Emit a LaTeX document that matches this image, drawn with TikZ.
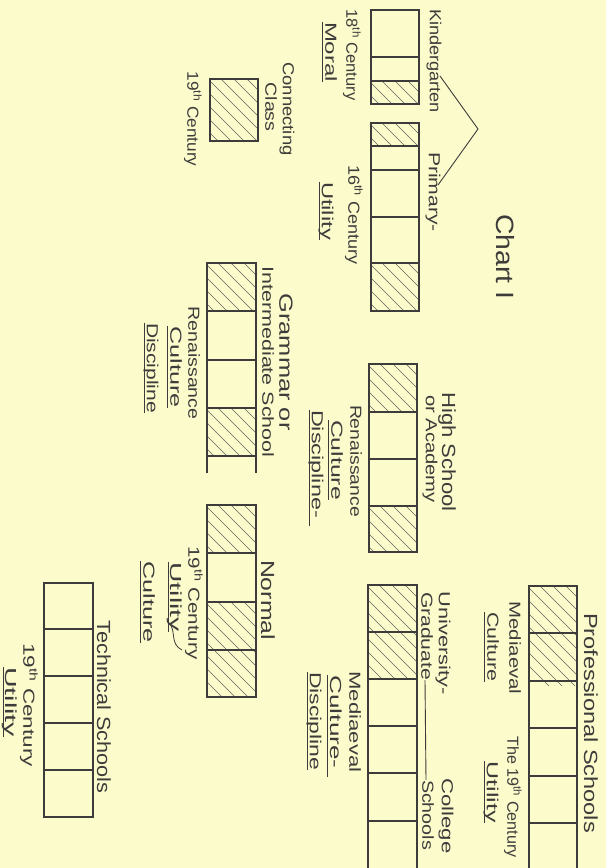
\documentclass[tikz,border=0pt]{standalone}
\usepackage{fontspec}
\usepackage{graphicx}
\newfontfamily\hand{Liberation Sans}
\definecolor{paper}{RGB}{251,251,204}
\definecolor{ink}{RGB}{62,60,58}
\newcommand\fitw[2]{\resizebox{#1pt}{\height}{#2}}
\newcommand\hatchcell[4]{\begin{scope}\clip (#1,#2) rectangle (#3,#4);
  \foreach \k in {-80,-67,...,60} \draw[hatch] ({#1+\k},#2) -- ({#1+\k+100},{#2+100});\end{scope}}
\newcommand\thx{\textsuperscript{th}}
\begin{document}
\begin{tikzpicture}[x=1pt,y=-1pt,
  box/.style={draw=ink,line width=1.1pt},
  hatch/.style={draw=ink!80,line width=0.5pt},
  lab/.style={rotate=-90,inner sep=0pt,text=ink,font=\hand\fontsize{16}{19}\selectfont},
  big/.style={font=\hand\fontsize{19}{22}\selectfont},
  uline/.style={draw=ink,line width=0.8pt}]
\fill[paper] (0,0) rectangle (606,868);
\useasboundingbox (0,0) rectangle (606,868);

% ---------- hatching ----------
\hatchcell{371}{81}{419}{104}
\hatchcell{371}{123}{419}{146}
\hatchcell{371}{263}{419}{311}
\hatchcell{210}{79}{258}{141}
\hatchcell{207}{263}{256}{311}
\hatchcell{207}{408}{256}{456}
\hatchcell{369}{364}{417}{412}
\hatchcell{369}{506}{417}{552}
\hatchcell{207}{505}{256}{553}
\hatchcell{207}{602}{256}{697}
\hatchcell{368}{585}{417}{679}
\hatchcell{529}{586}{577}{823}

% ---------- columns ----------
% Kindergarten
\draw[box] (371,10) rectangle (419,104);
\draw[box] (371,57) -- (419,57) (371,81) -- (419,81);
% Primary
\draw[box] (371,123) rectangle (419,311);
\foreach \y in {146,170,217,263} \draw[box] (371,\y) -- (419,\y);
% Connecting class
\draw[box] (210,79) rectangle (258,141);
% Grammar
\draw[box] (207,473) -- (207,263) -- (256,263) -- (256,473);
\foreach \y in {311,360,408,456} \draw[box] (207,\y) -- (256,\y);
% High school
\draw[box] (369,364) rectangle (417,552);
\foreach \y in {412,459,506} \draw[box] (369,\y) -- (417,\y);
% Normal
\draw[box] (207,505) rectangle (256,697);
\foreach \y in {553,602,650} \draw[box] (207,\y) -- (256,\y);
% Technical
\draw[box] (44,583) rectangle (93,817);
\foreach \y in {629,676,723,770} \draw[box] (44,\y) -- (93,\y);
% University
\draw[box] (368,870) -- (368,585) -- (417,585) -- (417,870);
\foreach \y in {632,679,726,773,821} \draw[box] (368,\y) -- (417,\y);
% Professional
\draw[box] (529,870) -- (529,586) -- (577,586) -- (577,870);
\foreach \y in {633,681,728,776,823} \draw[box] (529,\y) -- (577,\y);

% ---------- labels ----------
\node[lab] (kg)    at (434,61)  {\fitw{104}{Kindergarten}};
\node[lab] (c18)   at (352,55)  {\fitw{91}{18\thx\ Century}};
\node[lab] (moral) at (331,52)  {\fitw{60}{Moral}};
\node[lab] (prim)  at (433,192) {\fitw{80}{Primary-}};
\node[lab] (c16)   at (354,215) {\fitw{99}{16\thx\ Century}};
\node[lab] (ut1)   at (326,211) {\fitw{58}{Utility}};
\node[lab,font=\hand\fontsize{25}{28}\selectfont] (chart) at (505,257) {\fitw{85}{Chart I}};

\node[lab] (conn)  at (287,109) {\fitw{93}{Connecting}};
\node[lab] (cls)   at (271,107) {\fitw{49}{Class}};
\node[lab] (c19a)  at (193,119) {\fitw{95}{19\thx\ Century}};

\node[lab,big] (gram)  at (286,362) {\fitw{137}{Grammar or}};
\node[lab] (inter) at (268,362) {\fitw{191}{Intermediate School}};
\node[lab] (ren1)  at (194,363) {\fitw{113}{Renaissance}};
\node[lab] (cu1)   at (176,367) {\fitw{81}{Culture}};
\node[lab] (di1)   at (151,368) {\fitw{90}{Discipline}};

\node[lab,big] (hs)    at (447,452) {\fitw{119}{High School}};
\node[lab] (acad)  at (430,449) {\fitw{108}{or Academy}};
\node[lab] (ren2)  at (356,461) {\fitw{112}{Renaissance}};
\node[lab] (cu2)   at (337,460) {\fitw{80}{Culture}};
\node[lab] (di2)   at (316,464) {\fitw{108}{Discipline-}};

\node[lab,big] (norm)  at (268,600) {\fitw{80}{Normal}};
\node[lab] (c19b)  at (194,603) {\fitw{113}{19\thx\ Century}};
\node[lab] (ut2)   at (175,597) {\fitw{69}{Utility}};
\node[lab] (cu3)   at (149,602) {\fitw{81}{Culture}};

\node[lab,big] (tech)  at (104,707) {\fitw{173}{Technical Schools}};
\node[lab] (c19c)  at (29,705)  {\fitw{124}{19\thx\ Century}};
\node[lab] (ut3)   at (10,702)  {\fitw{70}{Utility}};

\node[lab,big] (prof)  at (591,723) {\fitw{220}{Professional Schools}};
\node[lab] (med1)  at (515,648) {\fitw{93}{Mediaeval}};
\node[lab] (cu4)   at (493,647) {\fitw{69}{Culture}};
\node[lab] (the19) at (513,797) {\fitw{121}{The 19\thx\ Century}};
\node[lab] (ut4)   at (491,792) {\fitw{61}{Utility}};

\node[lab] (univ)  at (443,643) {\fitw{103}{University-}};
\node[lab] (grad)  at (427,636) {\fitw{88}{Graduate}};
\node[lab] (coll)  at (446,816) {\fitw{75}{College}};
\node[lab] (sch)   at (428,815) {\fitw{70}{Schools}};
\node[lab] (med2)  at (355,722) {\fitw{101}{Mediaeval}};
\node[lab] (cu5)   at (336,722) {\fitw{93}{Culture-}};
\node[lab] (di3)   at (314,721) {\fitw{98}{Discipline}};

% ---------- underlines ----------
\foreach \n in {moral,ut1,cu1,di1,cu2,ut2,cu3,ut3,cu4,ut4,di3}
  \draw[uline] ([xshift=-2.5pt]\n.base west) -- ([xshift=-2.5pt]\n.base east);
\draw[uline] ([xshift=-2.5pt]di2.base west) -- ([xshift=-2.5pt,yshift=-8pt]di2.base east);
\draw[uline] ([xshift=-2.5pt]cu5.base west) -- ([xshift=-2.5pt,yshift=-8pt]cu5.base east);

% ---------- connectors ----------
\coordinate (kgend) at (440,76);
\coordinate (apex) at (478,129);
\coordinate (primend) at (438,185);
\draw[ink,line width=0.9pt] (kgend) -- (apex) -- (primend);
\draw[ink,line width=0.9pt] ([xshift=-2pt]grad.east) -- ([xshift=-2pt]sch.west);
\draw[ink,line width=0.8pt] (170,624) .. controls (176,632) and (170,644) .. (182,650);
\end{tikzpicture}
\end{document}
